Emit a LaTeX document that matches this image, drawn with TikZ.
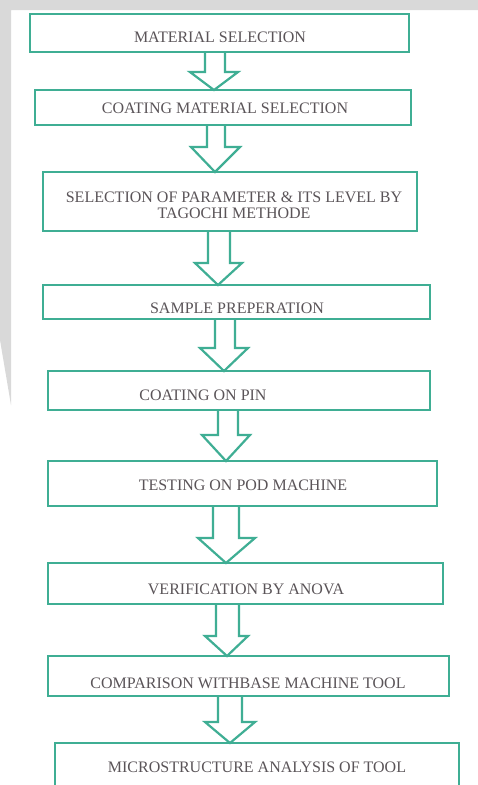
\documentclass[tikz,border=0pt]{standalone}
\usepackage{fontspec}
\setmainfont{Liberation Serif}
\definecolor{tealline}{HTML}{3FAE94}
\definecolor{txtgray}{HTML}{5A5458}
\definecolor{wmgray}{HTML}{D9D9D9}
\newcommand\blockarr[8]{%
  \draw[blk] (#1.south -| #3,0) -- (#3,#6) -- (#5,#6) -- (#2.north -| #8,0)
    -- (#7,#6) -- (#4,#6) -- (#1.south -| #4,0);}
\begin{document}
\begin{tikzpicture}[x=1pt,y=-1pt,
  box/.style={draw=tealline, line width=2.2pt, rectangle, inner sep=0pt, outer sep=0pt},
  blk/.style={draw=tealline, line width=2.2pt, line join=miter},
  lbl/.style={text=txtgray, font=\fontsize{16}{16}\selectfont, inner sep=0pt, align=center}]
\useasboundingbox (0,0) rectangle (478,785);
\clip (0,0) rectangle (478,785);
\fill[white] (0,0) rectangle (478,785);
\fill[wmgray] (0,0) -- (478,0) -- (478,10) -- (11,10) -- (11,405) -- (0,340) -- cycle;

% boxes
\node[box, minimum width=379pt, minimum height=38pt] (b1) at (219.5,33) {};
\node[box, minimum width=376pt, minimum height=35pt] (b2) at (223,107.5) {};
\node[box, minimum width=374pt, minimum height=59pt] (b3) at (230,201.5) {};
\node[box, minimum width=387pt, minimum height=34pt] (b4) at (236.5,302) {};
\node[box, minimum width=382pt, minimum height=39pt] (b5) at (239,390.5) {};
\node[box, minimum width=389pt, minimum height=45pt] (b6) at (242.5,483.5) {};
\node[box, minimum width=395pt, minimum height=41pt] (b7) at (245.5,583.5) {};
\node[box, minimum width=401pt, minimum height=40pt] (b8) at (248.5,676) {};
\node[box, minimum width=404pt, minimum height=62pt] (b9) at (257,774) {};

% labels
\node[lbl] (t1) at (220,37) {MATERIAL SELECTION};
\node[lbl] (t2) at (225,108) {COATING MATERIAL SELECTION};
\node[lbl, font=\fontsize{16}{16}\selectfont] (t3) at (234,205) {SELECTION OF PARAMETER \& ITS LEVEL BY\\TAGOCHI METHODE};
\node[lbl] (t4) at (237,308) {SAMPLE PREPERATION};
\node[lbl] (t5) at (203,395) {COATING ON PIN};
\node[lbl] (t6) at (243,485) {TESTING ON POD MACHINE};
\node[lbl] (t7) at (246,589) {VERIFICATION BY ANOVA};
\node[lbl] (t8) at (248,683) {COMPARISON WITHBASE MACHINE TOOL};
\node[lbl] (t9) at (257,767) {MICROSTRUCTURE ANALYSIS OF TOOL};

% block arrows: from, to, shaft left, shaft right, head left, head y, head right, tip x
\blockarr{b1}{b2}{205}{225}{190}{72}{238}{214}
\blockarr{b2}{b3}{207}{225}{191}{147}{240}{215}
\blockarr{b3}{b4}{208}{230}{195}{263}{242}{218}
\blockarr{b4}{b5}{215}{235}{200}{348}{248}{224}
\blockarr{b5}{b6}{218}{238}{202}{435}{250}{226}
\blockarr{b6}{b7}{213}{239}{198}{538}{255}{226}
\blockarr{b7}{b8}{216}{239}{205}{636}{248}{227}
\blockarr{b8}{b9}{218}{242}{205}{722}{255}{230}
\end{tikzpicture}
\end{document}
